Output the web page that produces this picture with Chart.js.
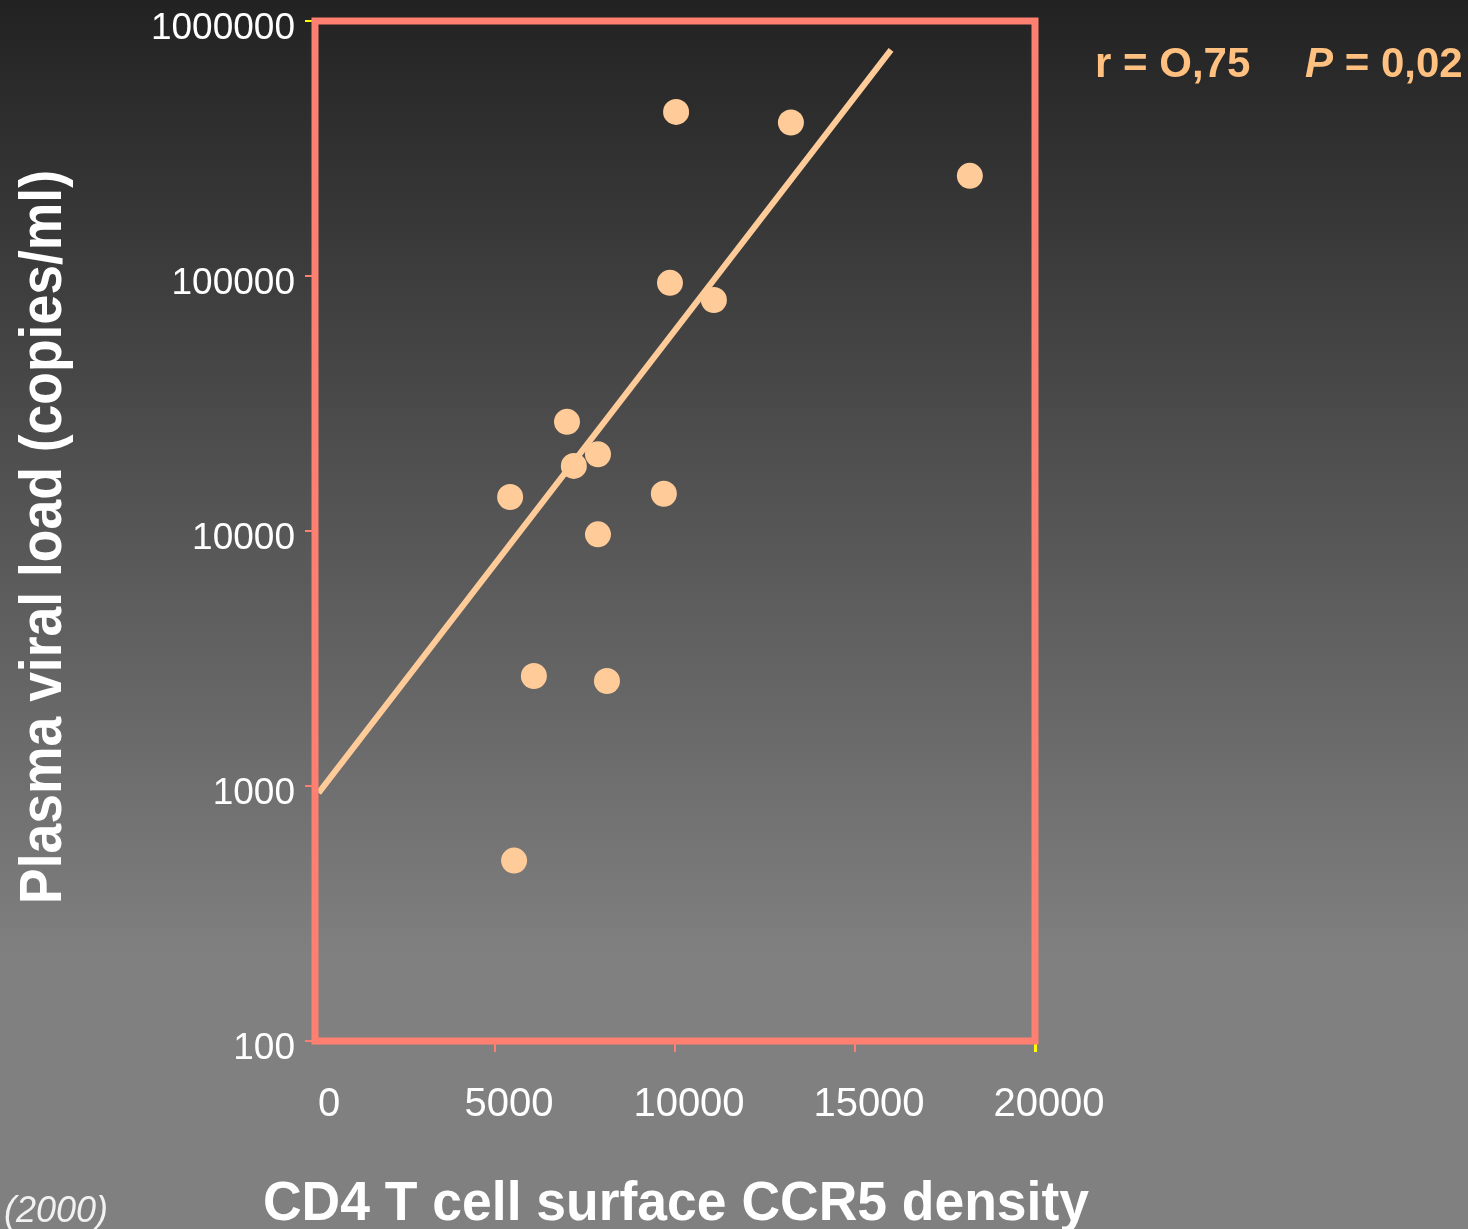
<!DOCTYPE html>
<html>
<head>
<meta charset="utf-8">
<script src="https://cdn.jsdelivr.net/npm/chart.js@4.4.1/dist/chart.umd.min.js"></script>
<style>
  html, body { margin: 0; padding: 0; background: #808080; }
  #wrap { width: 1468px; height: 1229px; }
  canvas { display: block; }
</style>
</head>
<body>
<div id="wrap"><canvas id="c" width="1468" height="1229"></canvas></div>
<script>
// CCR5 density on CD4 T cells vs plasma viral load, one point per patient
const ccr5Density = [10030, 13220, 18190, 9860, 11080, 7000, 7860, 7190, 5420, 9690, 7860, 6080, 8110, 5530];
const viralLoad   = [440000, 400000, 247000, 94000, 80500, 26800, 20000, 18000, 13600, 14000, 9700, 2700, 2580, 510];

// regression line end points
const fitX = [100, 16000];
const fitY = [940, 770000];

const xTickValues = [0, 5000, 10000, 15000, 20000];
const yTickValues = [100, 1000, 10000, 100000, 1000000];

const xTitle = 'CD4 T cell surface CCR5 density';
const yTitle = 'Plasma viral load (copies/ml)';
const statR = 'r = O,75';
const statPLetter = 'P';
const statPValue = ' = 0,02';
const sourceNote = '(2000)';

const FONT = '"Liberation Sans", Arial, Helvetica, sans-serif';
const PEACH = '#FFCC99';
const FRAME = '#FF8070';
const YELLOW = '#FFFF00';

const points = ccr5Density.map((x, i) => ({ x: x, y: viralLoad[i] }));
const fitLine = fitX.map((x, i) => ({ x: x, y: fitY[i] }));

const backgroundPlugin = {
  id: 'bg',
  beforeDraw(chart) {
    const ctx = chart.ctx;
    const g = ctx.createLinearGradient(0, 0, 0, chart.height);
    g.addColorStop(0, '#222222');
    g.addColorStop(0.78, '#808080');
    g.addColorStop(1, '#808080');
    ctx.save();
    ctx.fillStyle = g;
    ctx.fillRect(0, 0, chart.width, chart.height);
    ctx.restore();
  }
};

const framePlugin = {
  id: 'frame',
  afterDatasetsDraw(chart) {
    const a = chart.chartArea;
    const ctx = chart.ctx;
    ctx.save();
    ctx.strokeStyle = FRAME;
    ctx.lineWidth = 7;
    ctx.strokeRect(a.left, a.top, a.right - a.left, a.bottom - a.top);
    ctx.restore();
  }
};

function fittedText(ctx, text, font, targetWidth) {
  ctx.font = font;
  const w = ctx.measureText(text).width;
  ctx.scale(targetWidth / w, 1);
  ctx.fillText(text, 0, 0);
}

const textPlugin = {
  id: 'texts',
  afterDraw(chart) {
    const ctx = chart.ctx;
    ctx.save();
    ctx.fillStyle = '#FFFFFF';
    ctx.textAlign = 'left';
    ctx.textBaseline = 'alphabetic';

    // x-axis title
    ctx.save();
    ctx.translate(263, 1220);
    fittedText(ctx, xTitle, 'bold 56px ' + FONT, 826);
    ctx.restore();

    // y-axis title, reading bottom to top
    ctx.save();
    ctx.translate(61, 904);
    ctx.rotate(-Math.PI / 2);
    fittedText(ctx, yTitle, 'bold 60px ' + FONT, 734);
    ctx.restore();

    // correlation statistics
    ctx.fillStyle = '#FFC080';
    ctx.font = 'bold 42px ' + FONT;
    ctx.fillText(statR, 1095, 77);
    ctx.font = 'italic bold 42px ' + FONT;
    ctx.fillText(statPLetter, 1305, 77);
    const pw = ctx.measureText(statPLetter).width;
    ctx.font = 'bold 42px ' + FONT;
    ctx.fillText(statPValue, 1305 + pw, 77);

    // source year
    ctx.fillStyle = '#F2F2F2';
    ctx.font = 'italic 36px ' + FONT;
    ctx.fillText(sourceNote, 4, 1222);
    ctx.restore();
  }
};

new Chart(document.getElementById('c'), {
  type: 'scatter',
  data: {
    datasets: [
      {
        label: 'Patients',
        data: points,
        backgroundColor: PEACH,
        borderWidth: 0,
        pointRadius: 13,
        pointHoverRadius: 13
      },
      {
        type: 'line',
        label: 'Fit',
        data: fitLine,
        borderColor: PEACH,
        borderWidth: 6,
        pointRadius: 0,
        fill: false,
        showLine: true
      }
    ]
  },
  options: {
    responsive: false,
    animation: false,
    events: [],
    layout: { padding: { left: 0, top: 21, right: 433, bottom: 0 } },
    plugins: {
      legend: { display: false },
      tooltip: { enabled: false },
      title: { display: false }
    },
    scales: {
      x: {
        type: 'linear',
        min: 0,
        max: 20000,
        afterBuildTicks(scale) { scale.ticks = xTickValues.map(v => ({ value: v })); },
        afterFit(scale) { scale.height = 188; scale.paddingLeft = 0; scale.paddingRight = 0; },
        border: { display: false },
        grid: {
          drawOnChartArea: false,
          drawTicks: true,
          tickLength: 11,
          color: ctx => ctx.index === 0 ? 'rgba(0,0,0,0)' : (ctx.index === xTickValues.length - 1 ? YELLOW : FRAME),
          lineWidth: ctx => ctx.index === xTickValues.length - 1 ? 3 : 2
        },
        ticks: {
          color: '#FFFFFF',
          font: { family: FONT, size: 40 },
          padding: 29,
          labelOffset: 14,
          maxRotation: 0,
          autoSkip: false,
          callback: v => String(v)
        }
      },
      y: {
        type: 'logarithmic',
        min: 100,
        max: 1000000,
        afterBuildTicks(scale) { scale.ticks = yTickValues.map(v => ({ value: v })); },
        afterFit(scale) { scale.width = 315; scale.paddingTop = 0; scale.paddingBottom = 0; },
        border: { display: false },
        grid: {
          drawOnChartArea: false,
          drawTicks: true,
          tickLength: 10,
          color: ctx => ctx.tick && ctx.tick.value === 1000000 ? YELLOW : FRAME,
          lineWidth: 2
        },
        ticks: {
          color: '#FFFFFF',
          font: { family: FONT, size: 37, lineHeight: 1 },
          padding: 10,
          labelOffset: 8,
          autoSkip: false,
          callback: v => String(v)
        }
      }
    }
  },
  plugins: [backgroundPlugin, framePlugin, textPlugin]
});
</script>
</body>
</html>
